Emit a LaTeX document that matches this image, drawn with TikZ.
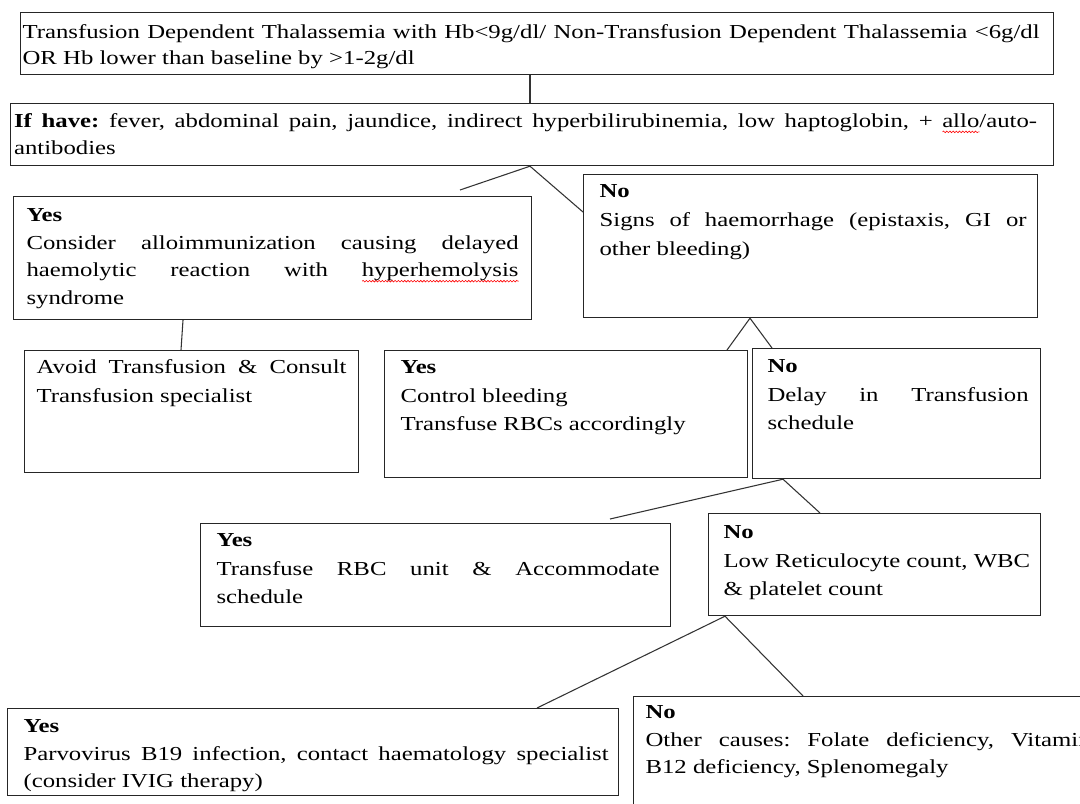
\documentclass[tikz,border=0pt]{standalone}
\usepackage{fontspec}
\setmainfont{Liberation Serif}[FakeStretch=1.25]
\usetikzlibrary{decorations.pathmorphing}
\frenchspacing
\newdimen\pxu \pxu=0.75pt
\newsavebox\spellbox
\newcommand\spellerr[1]{\sbox\spellbox{#1}\makebox[0pt][l]{\raisebox{-3.2pt}{\tikz[baseline]\draw[red, line width=0.45pt, decorate, decoration={snake, amplitude=0.6pt, segment length=2.4pt}] (0pt,0pt) -- (\wd\spellbox,0pt);}}#1}
% #1 left pad, #2 text width, #3 box width, #4 box height, #5 first baseline, #6 line pitch, #7 text
\newcommand\bxc[7]{\parbox[t][#4\pxu][t]{#3\pxu}{\hspace*{#1\pxu}\parbox[t]{#2\pxu}{\fontsize{14.85pt}{#6\pxu}\selectfont\frenchspacing\rule{0pt}{#5\pxu}#7}}}
\newcommand\jline[1]{\makebox[\linewidth][s]{#1}}
\begin{document}
\begin{tikzpicture}[x=0.75pt,y=-0.75pt,
  boxnode/.style={draw=black!85, line width=0.9pt, inner sep=0pt, anchor=north west},
  link/.style={draw=black!80, line width=0.8pt}]
\useasboundingbox (0,0) rectangle (1080,803);
\fill[white] (0,0) rectangle (1080,803);
\clip (0,0) rectangle (1080,803);

\node[boxnode] (b1) at (19.5,12) {\bxc{2.5}{1017}{1033.5}{62}{25.7}{26.3}{%
\jline{Transfusion Dependent Thalassemia with Hb<9g/dl/ Non-Transfusion Dependent Thalassemia <6g/dl}\\
OR Hb lower than baseline by >1-2g/dl}};

\node[boxnode] (b2) at (10,103) {\bxc{3.5}{1023}{1043}{62}{24}{27}{%
\jline{\textbf{If have:} fever, abdominal pain, jaundice, indirect hyperbilirubinemia, low haptoglobin, + \spellerr{allo}/auto-}\\
antibodies}};

\node[boxnode] (b3) at (13,196) {\bxc{13}{492}{518}{123}{24.7}{27.8}{%
\textbf{Yes}\\
\jline{Consider alloimmunization causing delayed}\\
\jline{haemolytic reaction with \spellerr{hyperhemolysis}}\\
syndrome}};

\node[boxnode] (b4) at (24,350) {\bxc{12}{310}{334}{122}{23}{29}{%
\jline{Avoid Transfusion \& Consult}\\
Transfusion specialist}};

\node[boxnode] (b5) at (384,350) {\bxc{16}{335}{363}{127}{23}{28.5}{%
\textbf{Yes}\\
Control bleeding\\
Transfuse RBCs accordingly}};

\node[boxnode] (b6) at (583,174) {\bxc{16}{427}{454}{143}{23}{29}{%
\textbf{No}\\
\jline{Signs of haemorrhage (epistaxis, GI or}\\
other bleeding)}};

\node[boxnode] (b7) at (752,348) {\bxc{15}{261}{288}{130}{24}{28.5}{%
\textbf{No}\\
\jline{Delay in Transfusion}\\
schedule}};

\node[boxnode] (b8) at (200,523) {\bxc{16}{443}{470}{103}{23}{28.5}{%
\textbf{Yes}\\
\jline{Transfuse RBC unit \& Accommodate}\\
schedule}};

\node[boxnode] (b9) at (708,513) {\bxc{15}{312}{332}{102}{25}{28.5}{%
\textbf{No}\\
Low Reticulocyte count, WBC\\
\& platelet count}};

\node[boxnode] (b10) at (7,708) {\bxc{16}{585}{611}{87}{24}{27.5}{%
\textbf{Yes}\\
\jline{Parvovirus B19 infection, contact haematology specialist}\\
(consider IVIG therapy)}};

\node[boxnode] (b11) at (633,696) {\bxc{12}{445}{480}{130}{22}{27.5}{%
\textbf{No}\\
\jline{Other causes: Folate deficiency, Vitamin}\\
B12 deficiency, Splenomegaly}};

\coordinate (f1) at (460,190);
\coordinate (f2) at (610,519);

\draw[link] ([shift={(510.5,0)}]b1.south west) -- ([shift={(520,0)}]b2.north west);
\draw[link] (f1) -- ([shift={(520,0)}]b2.south west) -- ([shift={(0,38)}]b6.north west);
\draw[link] ([shift={(170,0)}]b3.south west) -- ([shift={(157,0)}]b4.north west);
\draw[link] ([shift={(343,0)}]b5.north west) -- ([shift={(167,0)}]b6.south west) -- ([shift={(20,0)}]b7.north west);
\draw[link] (f2) -- ([shift={(31,0)}]b7.south west) -- ([shift={(112,0)}]b9.north west);
\draw[link] ([shift={(530,0)}]b10.north west) -- ([shift={(17,0)}]b9.south west) -- ([shift={(170,0)}]b11.north west);
\end{tikzpicture}
\end{document}
